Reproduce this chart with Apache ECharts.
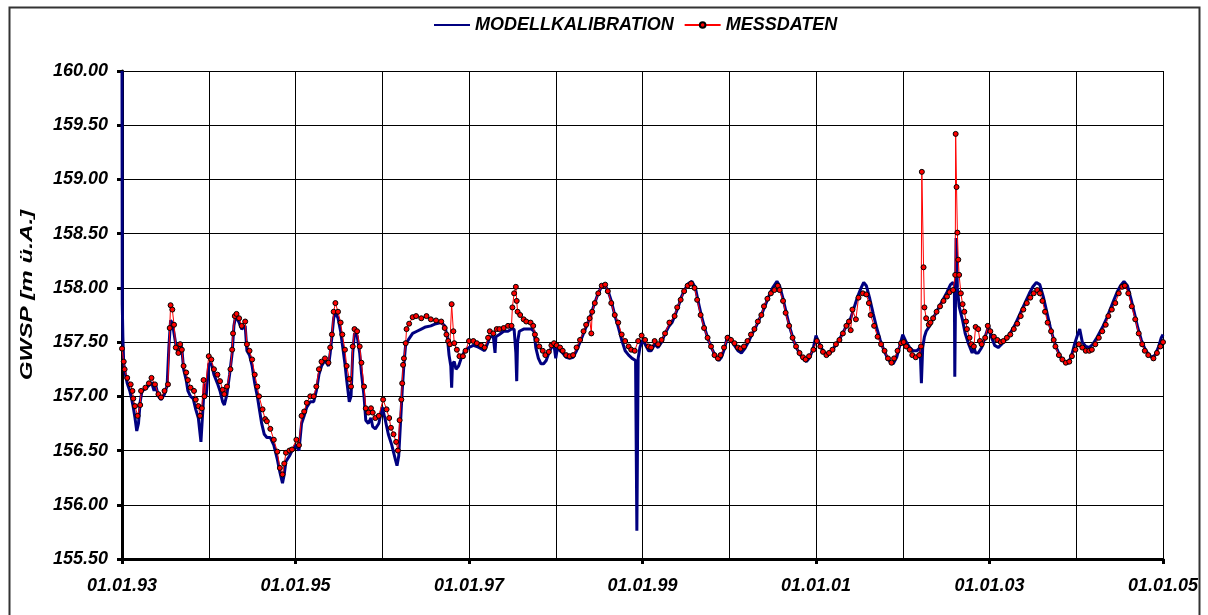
<!DOCTYPE html>
<html>
<head>
<meta charset="utf-8">
<script src="https://cdn.jsdelivr.net/npm/echarts@6/dist/echarts.min.js"></script>
<style>html,body{margin:0;padding:0;background:#fff;}#chart{width:1208px;height:615px;}</style>
</head>
<body>
<div id="chart"></div>
<script>
// Series names
const seriesNames = ['MODELLKALIBRATION', 'MESSDATEN'];
const yAxisTitle = 'GWSP [m ü.A.]';

// MODELLKALIBRATION: decimal year / water level
const modelX = [1993.000,1993.003,1993.01,1993.02,1993.04,1993.06,1993.09,1993.11,1993.13,1993.15,1993.17,1993.19,1993.21,1993.23,1993.27,1993.31,1993.34,1993.37,1993.39,1993.42,1993.45,1993.49,1993.52,1993.54,1993.56,1993.58,1993.60,1993.62,1993.65,1993.67,1993.69,1993.71,1993.74,1993.76,1993.79,1993.82,1993.85,1993.88,1993.91,1993.93,1993.95,1993.97,
1994.00,1994.03,1994.06,1994.10,1994.13,1994.16,1994.18,1994.21,1994.24,1994.27,1994.29,1994.31,1994.35,1994.38,1994.42,1994.44,1994.47,1994.50,1994.53,1994.56,1994.58,1994.61,1994.64,1994.67,1994.71,1994.75,1994.79,1994.82,1994.85,1994.87,1994.89,1994.93,1994.96,
1995.00,1995.04,1995.07,1995.10,1995.13,1995.17,1995.21,1995.24,1995.27,1995.30,1995.34,1995.38,1995.40,1995.42,1995.44,1995.46,1995.49,1995.52,1995.54,1995.57,1995.59,1995.62,1995.64,1995.66,1995.68,1995.71,1995.74,1995.76,1995.79,1995.81,1995.84,1995.87,1995.89,1995.92,1995.96,
1996.00,1996.03,1996.07,1996.11,1996.15,1996.17,1996.19,1996.21,1996.23,1996.25,1996.27,1996.30,1996.35,1996.40,1996.45,1996.50,1996.56,1996.62,1996.68,1996.72,1996.75,1996.77,1996.79,1996.80,1996.81,1996.83,1996.85,1996.88,1996.91,1996.95,
1997.00,1997.05,1997.09,1997.14,1997.18,1997.22,1997.24,1997.28,1997.30,1997.31,1997.35,1997.40,1997.45,1997.49,1997.52,1997.54,1997.55,1997.56,1997.58,1997.63,1997.68,1997.72,1997.75,1997.77,1997.80,1997.83,1997.86,1997.89,1997.92,1997.95,1997.98,
1998.00,1998.02,1998.05,1998.08,1998.12,1998.16,1998.20,1998.24,1998.28,1998.32,1998.36,1998.40,1998.44,1998.48,1998.52,1998.56,1998.60,1998.64,1998.68,1998.72,1998.76,1998.80,1998.84,1998.88,1998.92,1998.935,1998.95,1998.97,
1999.00,1999.03,1999.07,1999.10,1999.14,1999.18,1999.22,1999.26,1999.30,1999.34,1999.37,1999.41,1999.45,1999.49,1999.53,1999.57,1999.61,1999.64,1999.68,1999.72,1999.76,1999.80,1999.84,1999.88,1999.91,1999.95,1999.98,
2000.02,2000.06,2000.10,2000.14,2000.18,2000.22,2000.26,2000.30,2000.34,2000.38,2000.42,2000.46,2000.50,2000.55,2000.58,2000.62,2000.66,2000.70,2000.74,2000.78,2000.82,2000.86,2000.89,2000.93,2000.97,
2001.00,2001.04,2001.08,2001.12,2001.16,2001.20,2001.24,2001.28,2001.32,2001.36,2001.40,2001.44,2001.48,2001.52,2001.55,2001.58,2001.62,2001.66,2001.70,2001.74,2001.78,2001.82,2001.86,2001.89,2001.93,2001.97,
2002.00,2002.04,2002.08,2002.12,2002.16,2002.20,2002.215,2002.23,2002.25,2002.27,2002.31,2002.35,2002.39,2002.43,2002.47,2002.51,2002.55,2002.58,2002.595,2002.60,2002.615,2002.63,2002.65,2002.69,2002.72,2002.76,2002.80,2002.82,2002.84,2002.87,2002.91,2002.95,2002.99,
2003.02,2003.06,2003.10,2003.14,2003.18,2003.22,2003.26,2003.30,2003.34,2003.38,2003.42,2003.46,2003.50,2003.54,2003.58,2003.62,2003.66,2003.70,2003.74,2003.78,2003.82,2003.86,2003.90,2003.94,2003.98,
2004.02,2004.04,2004.07,2004.11,2004.15,2004.19,2004.23,2004.27,2004.31,2004.35,2004.39,2004.43,2004.47,2004.51,2004.55,2004.59,2004.63,2004.67,2004.71,2004.75,2004.79,2004.83,2004.87,2004.91,2004.95,2004.98,2005.00];
const modelY = [160.00,157.85,157.55,157.30,157.20,157.12,157.05,156.98,156.90,156.80,156.68,156.75,156.95,157.05,157.07,157.10,157.13,157.05,157.10,157.00,156.97,157.02,157.10,157.45,157.70,157.68,157.58,157.48,157.40,157.50,157.44,157.25,157.15,157.05,157.00,156.98,156.88,156.80,156.58,156.85,157.12,157.00,
157.30,157.30,157.20,157.12,157.05,156.95,156.92,157.02,157.20,157.40,157.65,157.74,157.68,157.62,157.65,157.42,157.38,157.28,157.12,157.00,156.90,156.75,156.65,156.62,156.62,156.55,156.42,156.30,156.20,156.28,156.40,156.45,156.50,
156.55,156.50,156.75,156.82,156.90,156.95,156.95,157.05,157.20,157.28,157.33,157.28,157.40,157.55,157.72,157.78,157.72,157.60,157.48,157.30,157.15,156.95,157.00,157.40,157.58,157.56,157.40,157.22,157.00,156.78,156.75,156.80,156.72,156.70,156.75,
156.90,156.80,156.65,156.55,156.42,156.36,156.45,156.75,157.05,157.30,157.48,157.52,157.58,157.60,157.62,157.64,157.65,157.67,157.68,157.65,157.55,157.38,157.28,157.08,157.30,157.32,157.25,157.28,157.35,157.42,
157.45,157.47,157.46,157.44,157.42,157.50,157.55,157.55,157.40,157.55,157.57,157.60,157.60,157.62,157.62,157.40,157.14,157.50,157.60,157.62,157.62,157.62,157.60,157.45,157.35,157.30,157.30,157.33,157.40,157.45,157.47,
157.35,157.45,157.42,157.40,157.36,157.35,157.36,157.42,157.50,157.58,157.66,157.74,157.84,157.93,158.00,158.03,157.98,157.88,157.75,157.64,157.52,157.42,157.38,157.35,157.33,155.76,157.35,157.45,
157.52,157.48,157.42,157.42,157.48,157.45,157.50,157.58,157.64,157.68,157.74,157.82,157.92,157.99,158.04,158.06,158.00,157.88,157.74,157.62,157.52,157.44,157.37,157.33,157.36,157.45,157.56,
157.52,157.47,157.42,157.40,157.44,157.50,157.57,157.63,157.70,157.77,157.85,157.93,158.00,158.06,158.02,157.90,157.76,157.63,157.52,157.44,157.38,157.34,157.32,157.36,157.45,
157.56,157.48,157.42,157.38,157.40,157.44,157.49,157.54,157.60,157.67,157.72,157.82,157.92,158.00,158.05,158.02,157.90,157.76,157.63,157.52,157.43,157.36,157.31,157.30,157.36,157.48,
157.57,157.50,157.45,157.42,157.42,157.45,157.12,157.45,157.55,157.60,157.65,157.72,157.78,157.84,157.90,157.96,158.03,158.05,158.02,157.18,158.46,158.00,157.83,157.70,157.58,157.48,157.40,157.45,157.40,157.40,157.45,157.55,157.65,
157.55,157.47,157.45,157.48,157.52,157.56,157.61,157.67,157.74,157.81,157.88,157.95,158.01,158.05,158.03,157.92,157.78,157.64,157.52,157.43,157.36,157.32,157.30,157.36,157.48,
157.58,157.62,157.50,157.46,157.45,157.48,157.53,157.59,157.65,157.72,157.80,157.88,157.96,158.02,158.06,158.02,157.90,157.77,157.63,157.52,157.44,157.39,157.36,157.38,157.46,157.54,157.57];

// MESSDATEN: decimal year / water level
const measX = [1993.00,1993.02,1993.03,1993.06,1993.10,1993.12,1993.13,1993.15,1993.18,1993.21,1993.22,1993.27,1993.31,1993.34,1993.38,1993.42,1993.45,1993.49,1993.53,1993.55,1993.56,1993.58,1993.60,1993.62,1993.65,1993.67,1993.69,1993.71,1993.74,1993.76,1993.79,1993.83,1993.85,1993.88,1993.90,1993.92,1993.94,1993.95,
1994.00,1994.03,1994.06,1994.10,1994.13,1994.16,1994.18,1994.21,1994.25,1994.27,1994.28,1994.30,1994.32,1994.35,1994.38,1994.42,1994.44,1994.47,1994.50,1994.53,1994.56,1994.58,1994.62,1994.65,1994.67,1994.71,1994.75,1994.79,1994.82,1994.85,1994.87,1994.89,1994.93,1994.96,
1995.01,1995.04,1995.07,1995.10,1995.13,1995.17,1995.21,1995.24,1995.27,1995.30,1995.34,1995.38,1995.40,1995.42,1995.44,1995.46,1995.49,1995.52,1995.54,1995.57,1995.59,1995.62,1995.64,1995.66,1995.68,1995.71,1995.74,1995.76,1995.79,1995.81,1995.84,1995.87,1995.89,1995.92,1995.96,
1996.01,1996.05,1996.08,1996.10,1996.13,1996.16,1996.18,1996.20,1996.22,1996.23,1996.24,1996.25,1996.27,1996.28,1996.31,1996.35,1996.39,1996.45,1996.51,1996.56,1996.62,1996.68,1996.72,1996.74,1996.76,1996.78,1996.80,1996.82,1996.83,1996.86,1996.89,1996.93,1996.96,
1997.00,1997.05,1997.09,1997.14,1997.18,1997.22,1997.24,1997.28,1997.32,1997.35,1997.40,1997.45,1997.49,1997.50,1997.52,1997.54,1997.55,1997.56,1997.59,1997.63,1997.66,1997.71,1997.74,1997.76,1997.78,1997.81,1997.85,1997.88,1997.92,1997.95,1997.98,
1998.01,1998.05,1998.08,1998.12,1998.16,1998.20,1998.24,1998.28,1998.32,1998.35,1998.39,1998.41,1998.42,1998.45,1998.49,1998.53,1998.57,1998.60,1998.64,1998.68,1998.72,1998.76,1998.80,1998.84,1998.87,1998.91,1998.95,1998.99,
1999.03,1999.07,1999.10,1999.14,1999.18,1999.22,1999.26,1999.31,1999.37,1999.40,1999.44,1999.48,1999.52,1999.56,1999.60,1999.63,1999.67,1999.71,1999.75,1999.79,1999.83,1999.87,1999.90,1999.94,1999.98,
2000.02,2000.06,2000.10,2000.13,2000.17,2000.21,2000.25,2000.29,2000.33,2000.37,2000.40,2000.44,2000.48,2000.52,2000.56,2000.58,2000.62,2000.65,2000.69,2000.73,2000.77,2000.81,2000.85,2000.88,2000.92,2000.97,
2001.01,2001.05,2001.08,2001.12,2001.15,2001.19,2001.23,2001.27,2001.31,2001.35,2001.38,2001.40,2001.42,2001.46,2001.49,2001.54,2001.58,2001.61,2001.63,2001.67,2001.71,2001.75,2001.79,2001.83,2001.87,2001.90,2001.94,2001.98,
2002.01,2002.04,2002.08,2002.11,2002.15,2002.19,2002.21,2002.22,2002.24,2002.25,2002.27,2002.30,2002.32,2002.35,2002.39,2002.43,2002.47,2002.51,2002.54,2002.58,2002.605,2002.61,2002.62,2002.63,2002.64,2002.65,2002.67,2002.69,2002.71,2002.73,2002.74,2002.77,2002.79,2002.82,2002.84,2002.87,2002.89,2002.91,2002.95,2002.98,
2003.01,2003.05,2003.09,2003.13,2003.16,2003.20,2003.24,2003.28,2003.32,2003.36,2003.39,2003.43,2003.47,2003.51,2003.55,2003.58,2003.61,2003.64,2003.67,2003.71,2003.74,2003.76,2003.80,2003.84,2003.88,2003.92,2003.95,2003.99,
2004.03,2004.07,2004.11,2004.15,2004.18,2004.22,2004.26,2004.30,2004.34,2004.37,2004.41,2004.45,2004.49,2004.53,2004.56,2004.60,2004.64,2004.68,2004.72,2004.76,2004.79,2004.83,2004.89,2004.93,2004.97,2005.00];
const measY = [157.44,157.32,157.25,157.17,157.11,157.05,156.98,156.91,156.82,156.92,157.05,157.08,157.12,157.17,157.11,157.02,156.99,157.05,157.11,157.63,157.84,157.80,157.66,157.45,157.40,157.48,157.43,157.28,157.22,157.15,157.08,157.05,156.97,156.91,156.82,156.89,157.15,157.00,
157.37,157.34,157.25,157.20,157.14,157.06,157.02,157.09,157.25,157.43,157.58,157.74,157.76,157.72,157.65,157.69,157.48,157.42,157.34,157.20,157.09,157.00,156.88,156.79,156.77,156.70,156.60,156.49,156.34,156.28,156.38,156.48,156.50,156.51,
156.60,156.55,156.82,156.86,156.94,157.00,157.00,157.09,157.25,157.32,157.35,157.31,157.45,157.57,157.78,157.86,157.78,157.68,157.57,157.43,157.28,157.16,157.09,157.46,157.62,157.60,157.46,157.31,157.09,156.89,156.85,156.89,156.85,156.80,156.82,
156.97,156.88,156.80,156.71,156.65,156.58,156.50,156.78,156.97,157.12,157.29,157.35,157.49,157.62,157.67,157.73,157.74,157.72,157.74,157.71,157.70,157.69,157.63,157.57,157.51,157.48,157.85,157.60,157.49,157.43,157.37,157.37,157.42,
157.51,157.51,157.49,157.47,157.45,157.54,157.60,157.58,157.62,157.62,157.63,157.65,157.65,157.82,157.95,158.01,157.88,157.78,157.75,157.71,157.69,157.68,157.65,157.57,157.52,157.46,157.42,157.38,157.41,157.47,157.49,
157.47,157.45,157.42,157.38,157.37,157.38,157.45,157.52,157.60,157.66,157.72,157.58,157.78,157.86,157.95,158.02,158.03,157.97,157.86,157.75,157.68,157.57,157.51,157.46,157.43,157.42,157.51,157.56,
157.52,157.46,157.45,157.51,157.48,157.52,157.58,157.68,157.74,157.82,157.89,157.97,158.02,158.04,158.00,157.89,157.75,157.63,157.54,157.46,157.38,157.35,157.38,157.45,157.54,
157.52,157.49,157.45,157.44,157.46,157.51,157.57,157.62,157.69,157.75,157.83,157.90,157.95,157.98,158.02,157.98,157.88,157.77,157.65,157.54,157.46,157.40,157.36,157.34,157.37,157.43,
157.51,157.46,157.41,157.38,157.40,157.43,157.48,157.52,157.58,157.65,157.69,157.61,157.80,157.71,157.91,157.95,157.94,157.86,157.75,157.65,157.55,157.48,157.42,157.35,157.31,157.35,157.42,157.49,
157.50,157.46,157.43,157.38,157.36,157.38,157.46,159.07,158.19,157.82,157.72,157.66,157.68,157.72,157.78,157.83,157.88,157.92,157.96,157.98,158.12,159.42,158.93,158.51,158.26,158.12,157.95,157.85,157.78,157.69,157.62,157.54,157.48,157.46,157.64,157.62,157.51,157.48,157.54,157.65,
157.60,157.55,157.52,157.50,157.51,157.54,157.57,157.62,157.67,157.74,157.80,157.86,157.91,157.95,157.98,157.95,157.88,157.78,157.68,157.60,157.52,157.46,157.38,157.34,157.31,157.32,157.37,157.43,
157.48,157.45,157.42,157.42,157.43,157.48,157.54,157.60,157.66,157.74,157.80,157.86,157.95,158.01,158.02,157.95,157.83,157.71,157.58,157.48,157.42,157.38,157.35,157.40,157.46,157.50];

// Axis settings
const xMin = 1993, xMax = 2005, xInterval = 2;
const yMin = 155.5, yMax = 160, yInterval = 0.5;

const modelData = modelX.map((x, i) => [x, modelY[i]]);
const measData = measX.map((x, i) => [x, measY[i]]);

const FONT = '"Liberation Sans", Arial, sans-serif';
const chart = echarts.init(document.getElementById('chart'), null, {renderer: 'canvas'});
chart.setOption({
  animation: false,
  backgroundColor: '#fff',
  graphic: [
    {
      type: 'rect', left: 7, top: 5, z: -10,
      shape: {x: 0, y: 0, width: 1190, height: 620},
      style: {fill: 'none', stroke: '#333', lineWidth: 2}
    },
    {
      type: 'text', x: 27, y: 295, rotation: Math.PI / 2, scaleX: 1.42, scaleY: 1,
      style: {
        text: yAxisTitle, textAlign: 'center', textVerticalAlign: 'middle',
        font: 'italic bold 17px "Liberation Sans", Arial, sans-serif', fill: '#000'
      }
    }
  ],
  legend: {
    top: 11, left: 428,
    itemWidth: 36, itemHeight: 7, itemGap: 10,
    textStyle: {fontFamily: FONT, fontSize: 18, fontWeight: 'bold', fontStyle: 'italic', color: '#000'},
    data: [
      {name: seriesNames[0], itemStyle: {color: 'rgba(0,0,0,0)', borderWidth: 0, borderColor: 'rgba(0,0,0,0)'}},
      {name: seriesNames[1]}
    ]
  },
  grid: {left: 122, right: 45, top: 71, bottom: 56, containLabel: false},
  xAxis: {
    type: 'value', min: xMin, max: xMax, interval: xInterval,
    axisLine: {show: true, onZero: false, lineStyle: {color: '#000', width: 3}},
    axisTick: {show: true, length: 5, lineStyle: {color: '#000', width: 3}},
    minorTick: {show: false, splitNumber: 2},
    splitLine: {show: true, lineStyle: {color: '#000', width: 1}},
    minorSplitLine: {show: true, lineStyle: {color: '#000', width: 1}},
    axisLabel: {
      margin: 18,
      fontFamily: FONT, fontSize: 18, fontWeight: 'bold', fontStyle: 'italic', color: '#000',
      formatter: v => '01.01.' + String(Math.round(v) % 100).padStart(2, '0')
    }
  },
  yAxis: {
    type: 'value', min: yMin, max: yMax, interval: yInterval,
    axisLine: {show: true, onZero: false, lineStyle: {color: '#000', width: 3}},
    axisTick: {show: true, length: 5, lineStyle: {color: '#000', width: 3}},
    splitLine: {show: true, lineStyle: {color: '#000', width: 1}},
    axisLabel: {
      margin: 14,
      fontFamily: FONT, fontSize: 18, fontWeight: 'bold', fontStyle: 'italic', color: '#000',
      formatter: v => v.toFixed(2)
    }
  },
  series: [
    {
      name: seriesNames[0], type: 'line', data: modelData,
      symbol: 'none', lineStyle: {color: '#000080', width: 3}, itemStyle: {color: '#000080'},
      z: 2
    },
    {
      name: seriesNames[1], type: 'line', data: measData,
      symbol: 'circle', symbolSize: 5, showAllSymbol: true,
      lineStyle: {color: '#ff0000', width: 1},
      itemStyle: {color: '#ff0000', borderColor: '#000', borderWidth: 1},
      z: 3
    }
  ]
});
</script>
</body>
</html>
